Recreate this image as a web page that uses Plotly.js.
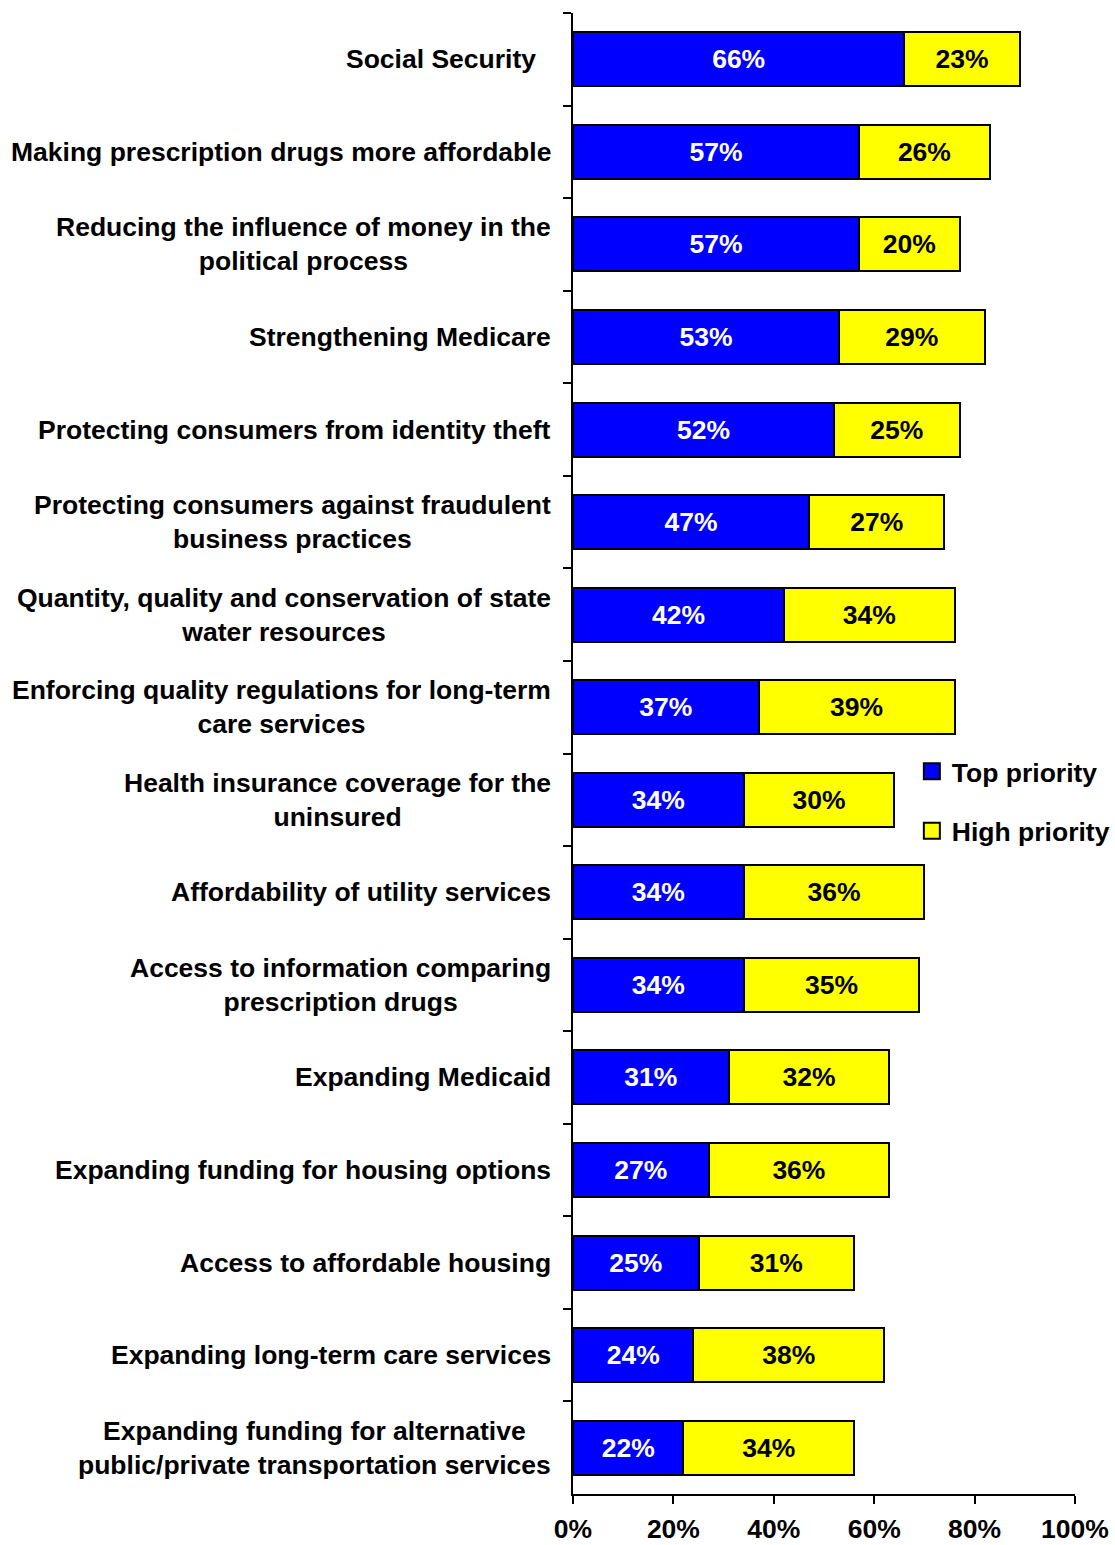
<!DOCTYPE html>
<html>
<head>
<meta charset="utf-8">
<script src="https://cdn.plot.ly/plotly-3.0.1.min.js"></script>
<style>
  html, body { margin: 0; padding: 0; background: #fff; }
  #chart { width: 1115px; height: 1545px; }
</style>
</head>
<body>
<div id="chart"></div>
<script>
const categories = [
  "Social Security\u00a0\u00a0",
  "Making prescription drugs more affordable",
  "Reducing the influence of money in the<br>political process",
  "Strengthening Medicare",
  "Protecting consumers from identity theft",
  "Protecting consumers against fraudulent<br>business practices",
  "Quantity, quality and conservation of state<br>water resources",
  "Enforcing quality regulations for long-term<br>care services",
  "Health insurance coverage for the<br>uninsured",
  "Affordability of utility services",
  "Access to information comparing<br>prescription drugs",
  "Expanding Medicaid",
  "Expanding funding for housing options",
  "Access to affordable housing",
  "Expanding long-term care services",
  "Expanding funding for alternative<br>public/private transportation services"
];
const topPriority  = [66, 57, 57, 53, 52, 47, 42, 37, 34, 34, 34, 31, 27, 25, 24, 22];
const highPriority = [23, 26, 20, 29, 25, 27, 34, 39, 30, 36, 35, 32, 36, 31, 38, 34];
const seriesNames = ["Top priority", "High priority"];
const seriesColors = ["#0000FF", "#FFFF00"];
const textColors = ["#FFFFFF", "#000000"];
const xTicks = [0, 20, 40, 60, 80, 100];

const FONT = "'Liberation Sans', Arial, sans-serif";
const FS = 26.5;

const seriesValues = [topPriority, highPriority];

const traces = [];
seriesValues.forEach((vals, i) => {
  traces.push({
    type: 'bar',
    orientation: 'h',
    name: seriesNames[i],
    y: categories,
    x: vals,
    text: vals.map(v => v + '%'),
    texttemplate: '%{text}',
    textposition: 'inside',
    insidetextanchor: 'middle',
    textangle: 0,
    constraintext: 'none',
    hoverinfo: 'skip',
    showlegend: false,
    marker: { color: seriesColors[i], line: { color: '#000', width: 2 } },
    textfont: { family: FONT, size: FS, color: textColors[i], weight: 'bold' }
  });
});
// legend entries (square keys like the original)
seriesNames.forEach((n, i) => {
  traces.push({
    type: 'scatter',
    mode: 'markers',
    name: n,
    x: [null], y: [null],
    legendgroup: 'g' + i,
    showlegend: true,
    hoverinfo: 'skip',
    marker: { symbol: 'square', size: 16, color: seriesColors[i], line: { color: '#000', width: 2 } }
  });
});

const annotations = categories.map(c => ({
  xref: 'paper', yref: 'y',
  x: 0, y: c,
  xanchor: 'right', yanchor: 'middle',
  xshift: -20,
  align: 'center',
  showarrow: false,
  text: c,
  font: { family: FONT, size: FS, color: '#000', weight: 'bold' }
}));

const layout = {
  width: 1115,
  height: 1545,
  margin: { l: 573, r: 40, t: 13, b: 51, autoexpand: false },
  paper_bgcolor: '#fff',
  plot_bgcolor: '#fff',
  barmode: 'stack',
  bargap: 0.417,
  font: { family: FONT, size: FS, color: '#000', weight: 'bold' },
  showlegend: true,
  legend: {
    x: 0.675, xanchor: 'left',
    y: 0.504, yanchor: 'top',
    traceorder: 'grouped',
    tracegroupgap: 22,
    itemsizing: 'trace',
    bgcolor: 'rgba(0,0,0,0)',
    font: { family: FONT, size: FS, color: '#000', weight: 'bold' }
  },
  xaxis: {
    range: [0, 100],
    tickvals: xTicks,
    ticktext: xTicks.map(v => v + '%'),
    ticks: 'outside',
    ticklen: 8,
    tickwidth: 2,
    tickcolor: '#000',
    ticklabelstandoff: 2,
    showline: true,
    linewidth: 2,
    linecolor: '#000',
    showgrid: false,
    zeroline: false,
    fixedrange: true,
    automargin: false,
    tickfont: { family: FONT, size: FS, color: '#000', weight: 'bold' }
  },
  yaxis: {
    type: 'category',
    categoryorder: 'array',
    categoryarray: categories,
    autorange: 'reversed',
    showticklabels: false,
    ticks: 'outside',
    tickson: 'boundaries',
    ticklen: 8,
    tickwidth: 2,
    tickcolor: '#000',
    showline: true,
    linewidth: 2,
    linecolor: '#000',
    showgrid: false,
    zeroline: false,
    automargin: false
  },
  annotations: annotations
};

Plotly.newPlot('chart', traces, layout, { staticPlot: true, displayModeBar: false });
</script>
</body>
</html>
